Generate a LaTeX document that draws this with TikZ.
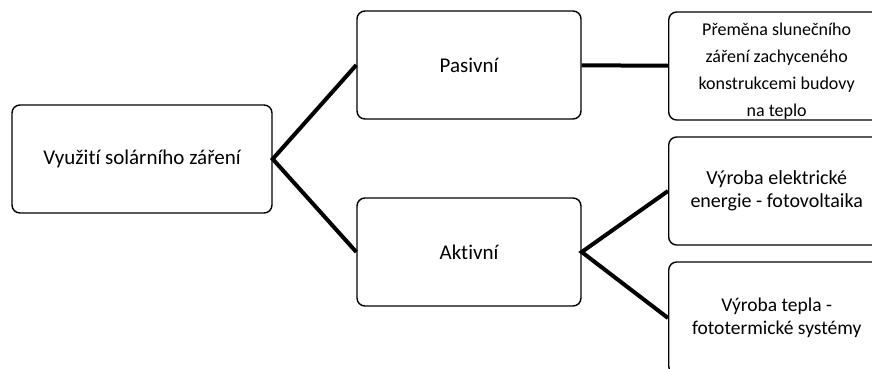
\documentclass[tikz,border=0pt]{standalone}
\usepackage{fontspec}
\setmainfont{Carlito}[Ligatures=NoCommon]
\usetikzlibrary{positioning}
\tikzset{%
	box/.style={draw, rectangle, rounded corners=8pt, line width=1.4pt,%
		minimum width=224pt, minimum height=108pt, align=center,%
		font=\fontsize{21}{26}\selectfont},
	leaf/.style={box, minimum width=216pt, anchor=west},
	branch/.style={line width=4pt, line join=miter}
}

\begin{document}
\begin{tikzpicture}[x=1pt, y=-1pt]
	\useasboundingbox (0,0) rectangle (872,368);
	\clip (0,0) rectangle (872,368);
	\node[box, minimum width=260pt] (root) at (142,159) {Využití solárního záření};
	\node[box] (pas) at (469,65) {Pasivní};
	\node[box] (akt) at (469,252) {Aktivní};
	\node[leaf, inner ysep=0pt, text height=104pt, text depth=3pt,
		font=\fontsize{18}{27}\selectfont] (prem) at (668,66)
		{Přeměna slunečního\\záření zachyceného\\konstrukcemi budovy\\na teplo};
	\node[leaf, font=\fontsize{20}{23}\selectfont] (elek) at (668,191)
		{Výroba elektrické\\energie - fotovoltaika};
	\node[leaf, minimum height=112pt, font=\fontsize{19.5}{23}\selectfont] (tep) at (668,318)
		{Výroba tepla -\\fototermické systémy};

	\draw[branch] (pas.west) -- (root.east) -- (akt.west);
	\draw[branch] (pas) -- (prem);
	\draw[branch] (elek.west) -- (akt.east) -- (tep.west);
\end{tikzpicture}
\end{document}
